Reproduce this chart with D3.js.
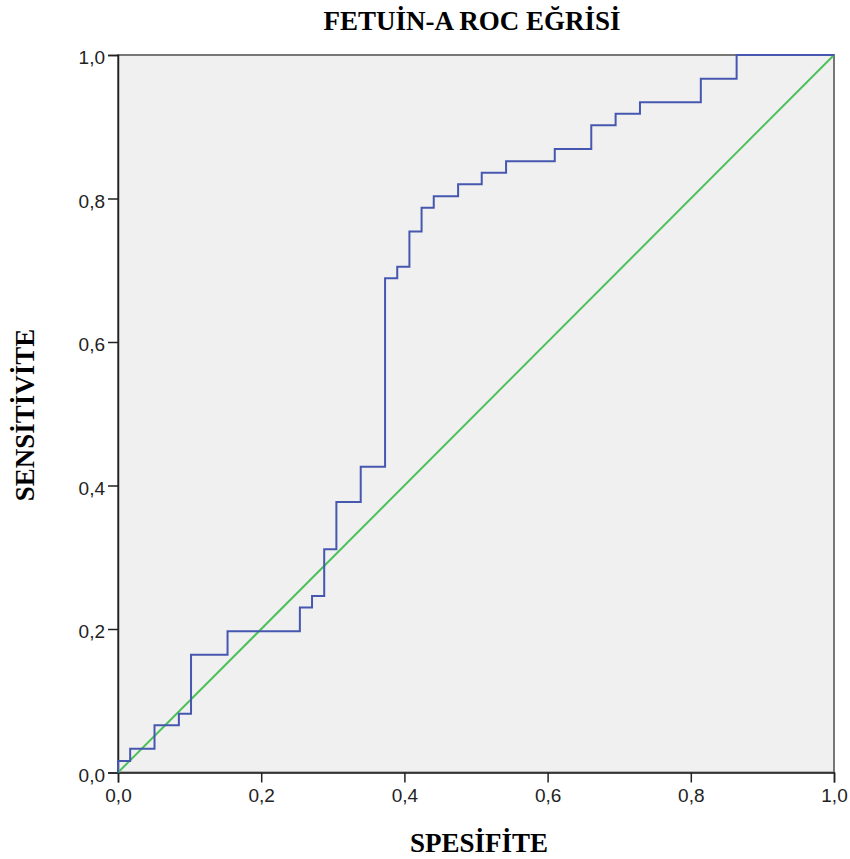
<!DOCTYPE html>
<html>
<head>
<meta charset="utf-8">
<script src="https://cdn.jsdelivr.net/npm/d3@7"></script>
<style>
  body { margin: 0; background: #fff; }
  .tick text { font-family: "Liberation Sans", Arial, sans-serif; font-size: 19px; fill: #222; }
  .title, .axis-title { font-family: "Liberation Serif", "Times New Roman", serif; font-weight: bold; fill: #000; }
</style>
</head>
<body>
<script>
  // ROC vertices (1 - specificity, sensitivity)
  const fpr = [0, 0.017, 0.051, 0.085, 0.102, 0.153, 0.254, 0.271, 0.288, 0.305, 0.339, 0.373, 0.390,
               0.407, 0.424, 0.441, 0.475, 0.508, 0.542, 0.610, 0.661, 0.695, 0.729, 0.814, 0.864, 1.0];
  const tpr = [0, 0.016, 0.033, 0.066, 0.082, 0.164, 0.197, 0.230, 0.246, 0.311, 0.377, 0.426, 0.689,
               0.705, 0.754, 0.787, 0.803, 0.820, 0.836, 0.852, 0.869, 0.902, 0.918, 0.934, 0.967, 1.0];
  const refX = [0, 1];
  const refY = [0, 1];
  const tickVals = [0, 0.2, 0.4, 0.6, 0.8, 1.0];
  const tickLabels = ["0,0", "0,2", "0,4", "0,6", "0,8", "1,0"];

  const width = 850, height = 859;
  const margin = {top: 55, right: 16, bottom: 86.5, left: 118};
  const iw = width - margin.left - margin.right;
  const ih = height - margin.top - margin.bottom;

  const svg = d3.select("body").append("svg")
    .attr("width", width).attr("height", height);

  const g = svg.append("g").attr("transform", `translate(${margin.left},${margin.top})`);

  const x = d3.scaleLinear().domain([0, 1]).range([0, iw]);
  const y = d3.scaleLinear().domain([0, 1]).range([ih, 0]);

  // plot background + frame
  g.append("rect").attr("width", iw).attr("height", ih)
    .attr("fill", "#f0f0f0").attr("stroke", "#777").attr("stroke-width", 2);

  // axes
  const fmt = d => tickLabels[tickVals.indexOf(d)];
  const xAxis = g.append("g").attr("transform", `translate(0,${ih})`)
    .call(d3.axisBottom(x).tickValues(tickVals).tickFormat(fmt).tickSize(10).tickPadding(6));
  const yAxis = g.append("g")
    .call(d3.axisLeft(y).tickValues(tickVals).tickFormat(fmt).tickSize(10).tickPadding(3));
  [xAxis, yAxis].forEach(a => {
    a.select(".domain").attr("stroke", "#222").attr("stroke-width", 1.5);
    a.selectAll(".tick line").attr("stroke", "#222").attr("stroke-width", 1.5);
  });
  yAxis.selectAll(".tick text").attr("dy", "0.45em");

  // reference diagonal
  g.append("path")
    .datum(refX.map((d, i) => [d, refY[i]]))
    .attr("d", d3.line().x(d => x(d[0])).y(d => y(d[1])))
    .attr("fill", "none").attr("stroke", "#4cc05a").attr("stroke-width", 2);

  // ROC curve
  g.append("path")
    .datum(fpr.map((d, i) => [d, tpr[i]]))
    .attr("d", d3.line().curve(d3.curveStepBefore).x(d => x(d[0])).y(d => y(d[1])))
    .attr("fill", "none").attr("stroke", "#4657b0").attr("stroke-width", 2);

  // titles
  svg.append("text").attr("class", "title")
    .attr("x", 472).attr("y", 30).attr("text-anchor", "middle")
    .style("font-size", "27px").text("FETUİN-A ROC EĞRİSİ");

  svg.append("text").attr("class", "axis-title")
    .attr("x", 479).attr("y", 852).attr("text-anchor", "middle")
    .style("font-size", "27px").text("SPESİFİTE");

  svg.append("text").attr("class", "axis-title")
    .attr("transform", `translate(34,415) rotate(-90)`)
    .attr("text-anchor", "middle")
    .style("font-size", "27px").text("SENSİTİVİTE");
</script>
</body>
</html>
